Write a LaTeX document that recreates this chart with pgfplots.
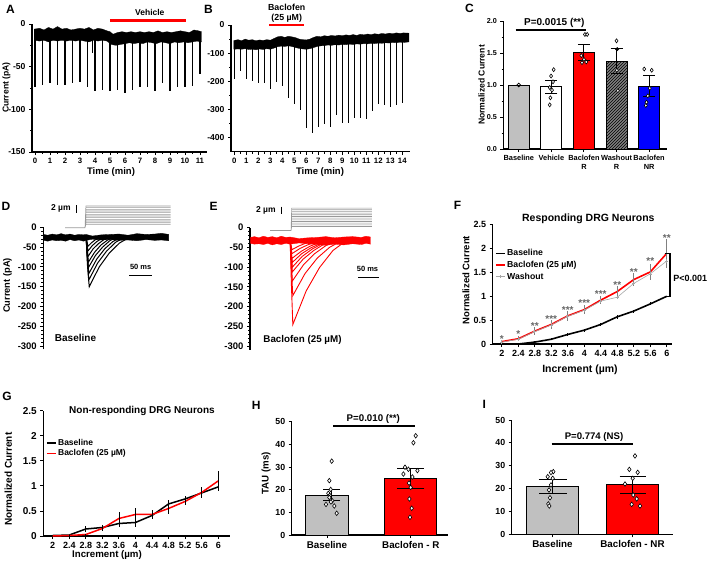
\documentclass[border=0pt]{standalone}
\usepackage{fontspec}
\setmainfont{Liberation Sans}
\usepackage{pgfplots}
\pgfplotsset{compat=1.18}
\usetikzlibrary{patterns}
\newcommand{\F}[1]{\fontsize{#1}{#1}\selectfont\bfseries}
\definecolor{bargray}{RGB}{192,192,192}
\definecolor{myred}{RGB}{255,0,0}
\definecolor{myblue}{RGB}{0,0,255}
\pgfplotsset{
  P/.style={scale only axis, clip=false, anchor=south west,
    axis x line*=bottom, axis y line*=left,
    axis line style={line width=1.2pt, black},
    every tick/.style={black, line width=0.9pt},
    tick align=outside, major tick length=3pt, minor tick length=1.8pt,
    /pgf/number format/assume math mode=true,
    tick label style={font=\F{8.5}}},
  EB/.style={draw=none, mark=none, forget plot, error bars/.cd, y dir=both, y explicit,
    error bar style={draw=black, line width=1pt},
    error mark options={rotate=90, draw=black, line width=1pt, mark size=#1}},
  DIA/.style={only marks, mark=diamond*, mark size=2.3pt, forget plot,
    mark options={fill=white, draw=black, line width=0.6pt}},
  LEG/.style={legend cell align=left,
    legend image code/.code={\draw[mark repeat=2,mark phase=2,##1] plot coordinates {(0pt,0pt) (4.5pt,0pt) (9pt,0pt)};}}
}
\begin{document}
\begin{tikzpicture}
\useasboundingbox (0pt,0pt) rectangle (709pt,-563pt);

% ---------------- A ----------------
\begin{axis}[P, at={(32pt,-152pt)}, width=175pt, height=128pt,
  xmin=-0.2, xmax=11.47, ymin=-150, ymax=0,
  xtick={0,...,11}, minor x tick num=1, ytick={0,-50,-100,-150}, minor y tick num=1,
  xticklabel style={font=\F{7.8}}, yticklabel style={font=\F{8.6}}]
\addplot[fill=black, draw=black, line width=0.3pt] coordinates {
(-0.05,-6)(0.3,-5)(0.6,-7)(0.9,-4)(1.2,-6)(1.5,-3)(1.8,-6)(2.1,-5)(2.4,-7)(2.7,-6)(3.0,-5)(3.3,-6)(3.6,-4)(3.9,-7)(4.2,-5)(4.5,-6)(4.8,-8)(5.0,-9)(5.2,-12)(5.5,-10)(5.8,-9)(6.1,-10)(6.4,-9)(6.7,-10)(7.0,-9)(7.3,-10)(7.6,-9)(7.9,-10)(8.2,-8)(8.5,-10)(8.8,-9)(9.1,-10)(9.4,-9)(9.7,-8)(10.0,-9)(10.3,-10)(10.6,-7)(10.9,-8)(11.1,-9)
(11.1,-21)(10.8,-20)(10.5,-21)(10.2,-22)(9.9,-21)(9.6,-22)(9.3,-21)(9.0,-23)(8.7,-22)(8.4,-21)(8.1,-23)(7.8,-22)(7.5,-21)(7.2,-23)(6.9,-22)(6.6,-23)(6.3,-22)(6.0,-23)(5.7,-24)(5.4,-25)(5.1,-24)(4.8,-20)(4.5,-19)(4.2,-20)(3.9,-19)(3.6,-21)(3.3,-20)(3.0,-19)(2.7,-20)(2.4,-19)(2.1,-20)(1.8,-19)(1.5,-20)(1.2,-19)(0.9,-21)(0.6,-19)(0.3,-20)(-0.05,-19)} -- cycle;
\addplot[draw=none, mark=none, error bars/.cd, y dir=minus, y explicit,
  error bar style={draw=black, line width=1.5pt}, error mark=none] coordinates {
(0,-15) +- (0,59.4) (0.5,-15) +- (0,56.7) (1,-15) +- (0,54.7) (1.5,-15) +- (0,55.9)
(2,-15) +- (0,56.7) (2.5,-15) +- (0,54.3) (3,-15) +- (0,53.2) (3.5,-15) +- (0,59.4)
(3.85,-15) +- (0,19) (4,-15) +- (0,63.3) (4.5,-15) +- (0,62.5) (5,-15) +- (0,64)
(5.5,-15) +- (0,61.8) (6,-15) +- (0,65.3) (6.5,-15) +- (0,61.8) (7,-15) +- (0,58.6)
(7.5,-15) +- (0,58.6) (8,-15) +- (0,63) (8.5,-15) +- (0,54.7) (9,-15) +- (0,64)
(9.5,-15) +- (0,59.4) (10,-15) +- (0,58.6) (10.5,-15) +- (0,57.5) (11,-15) +- (0,43.8)};
\addplot[myred, line width=2.7pt] coordinates {(5,3.9) (10.07,3.9)};
\end{axis}

% ---------------- B ----------------
\begin{axis}[P, at={(231pt,-151.8pt)}, width=179pt, height=126.8pt,
  xmin=-0.28, xmax=14.64, ymin=-450, ymax=0,
  xtick={0,...,14}, minor x tick num=1, ytick={0,-100,-200,-300,-400}, minor y tick num=1,
  xticklabel style={font=\F{7.8}}, yticklabel style={font=\F{8.6}}]
\addplot[fill=black, draw=black, line width=0.3pt] coordinates {
(-0.05,-55)(0.3,-52)(0.6,-56)(0.9,-50)(1.2,-54)(1.5,-52)(1.8,-56)(2.1,-53)(2.4,-55)(2.7,-52)(3.0,-54)(3.3,-48)(3.6,-42)(3.9,-40)(4.2,-44)(4.5,-40)(4.8,-42)(5.1,-45)(5.4,-50)(5.7,-52)(6.0,-53)(6.3,-50)(6.6,-44)(6.9,-40)(7.2,-42)(7.5,-38)(7.8,-40)(8.1,-37)(8.4,-39)(8.7,-36)(9.0,-38)(9.3,-35)(9.6,-37)(9.9,-34)(10.2,-37)(10.5,-33)(10.8,-35)(11.1,-32)(11.4,-34)(11.7,-31)(12.0,-33)(12.3,-30)(12.6,-32)(12.9,-29)(13.2,-31)(13.5,-28)(13.8,-30)(14.1,-28)(14.55,-29)
(14.55,-60)(14.1,-62)(13.8,-61)(13.5,-63)(13.2,-62)(12.9,-64)(12.6,-63)(12.3,-65)(12.0,-64)(11.7,-66)(11.4,-65)(11.1,-67)(10.8,-66)(10.5,-68)(10.2,-67)(9.9,-69)(9.6,-68)(9.3,-70)(9.0,-69)(8.7,-71)(8.4,-70)(8.1,-72)(7.8,-71)(7.5,-73)(7.2,-74)(6.9,-76)(6.6,-80)(6.3,-84)(6.0,-86)(5.7,-85)(5.4,-83)(5.1,-80)(4.8,-76)(4.5,-74)(4.2,-76)(3.9,-75)(3.6,-77)(3.3,-82)(3.0,-86)(2.7,-84)(2.4,-87)(2.1,-85)(1.8,-88)(1.5,-86)(1.2,-87)(0.9,-84)(0.6,-86)(0.3,-85)(-0.05,-86)} -- cycle;
\addplot[draw=none, mark=none, error bars/.cd, y dir=minus, y explicit,
  error bar style={draw=black, line width=1.5pt}, error mark=none] coordinates {
(0,-60) +- (0,132.8) (0.5,-60) +- (0,103) (1,-60) +- (0,132.8) (1.5,-60) +- (0,138.7)
(2,-60) +- (0,144.6) (2.5,-60) +- (0,147) (3,-60) +- (0,168) (3.5,-60) +- (0,143)
(4,-60) +- (0,155) (4.5,-60) +- (0,199) (5,-60) +- (0,221) (5.5,-60) +- (0,241.6)
(6,-60) +- (0,304) (6.5,-60) +- (0,322) (7,-60) +- (0,303) (7.5,-60) +- (0,291)
(8,-60) +- (0,301) (8.5,-60) +- (0,260) (9,-60) +- (0,289) (9.5,-60) +- (0,289)
(10,-60) +- (0,270) (10.5,-60) +- (0,271) (11,-60) +- (0,275) (11.5,-60) +- (0,244)
(12,-60) +- (0,220) (12.5,-60) +- (0,225) (13,-60) +- (0,230) (13.5,-60) +- (0,224) (14,-60) +- (0,218)};
\addplot[myred, line width=2.4pt] coordinates {(2.92,0) (5.81,0)};
\end{axis}

% ---------------- C ----------------
\begin{axis}[P, at={(503.3pt,-149pt)}, width=163.4pt, height=128pt,
  xmin=-0.475, xmax=4.54, ymin=0, ymax=2,
  ytick={0,0.5,1,1.5,2}, minor y tick num=1,
  yticklabel style={font=\F{7.2}, /pgf/number format/.cd, fixed, fixed zerofill, precision=1},
  xtick={0,1,2,3,4}, xticklabels={Baseline, Vehicle, {Baclofen\\R}, {Washout\\R}, {Baclofen\\NR}},
  xticklabel style={font=\fontsize{7.4}{8.8}\selectfont\bfseries, align=center}]
\addplot[ybar, bar width=21pt, bar shift=0pt, fill=bargray, draw=black, line width=0.9pt] coordinates {(0,1)};
\addplot[ybar, bar width=21pt, bar shift=0pt, fill=white, draw=black, line width=0.9pt] coordinates {(1,0.973)};
\addplot[ybar, bar width=21pt, bar shift=0pt, fill=myred, draw=black, line width=0.9pt] coordinates {(2,1.51)};
\addplot[ybar, bar width=21pt, bar shift=0pt, fill=black!50, draw=black, line width=0.9pt,
  postaction={pattern=north east lines, pattern color=black}] coordinates {(3,1.375)};
\addplot[ybar, bar width=21pt, bar shift=0pt, fill=myblue, draw=black, line width=0.9pt] coordinates {(4,0.984)};
\addplot[EB=6pt] coordinates {(1,0.973) +- (0,0.105) (2,1.51) +- (0,0.12) (3,1.375) +- (0,0.19) (4,0.984) +- (0,0.16)};
\addplot[only marks, mark=o, mark size=1.8pt, mark options={fill=white, draw=black, line width=0.7pt}] coordinates {(0,1)};
\addplot[DIA, mark size=2pt] coordinates {(1.07,1.24)(0.99,1.14)(1.05,1.05)(0.95,0.96)(1.02,0.92)(0.97,0.80)(0.95,0.69)
 (2.03,1.79)(2.10,1.79)(1.92,1.46)(2.00,1.40)(1.94,1.35)(2.07,1.36)
 (3.00,1.69)(3.01,1.23)(3.04,0.91)
 (3.85,1.25)(4.08,1.23)(4.02,0.95)(3.96,0.83)(3.92,0.73)(3.90,0.68)};
\addplot[only marks, mark=*, mark size=1.8pt, black] coordinates {(3.02,1.56)};
\addplot[black, line width=1.3pt] coordinates {(-0.1,1.86) (2.05,1.86)};
\end{axis}

% ---------------- D ----------------
\begin{axis}[P, at={(43.3pt,-349.3pt)}, width=130pt, height=122pt,
  xmin=0, xmax=291.5, ymin=-308, ymax=0, axis x line=none,
  ytick={0,-50,-100,-150,-200,-250,-300}, minor y tick num=4, yticklabel style={font=\F{9.5}}]
\addplot[gray!80, line width=0.6pt, unbounded coords=jump] coordinates {
(48.7,-1)(93.5,-1)(95.5,7.6)(285.7,7.6)(nan,nan)(93.5,-1)(95.5,11.8)(285.7,11.8)(nan,nan)
(93.5,-1)(95.5,16)(285.7,16)(nan,nan)(93.5,-1)(95.5,20.2)(285.7,20.2)(nan,nan)
(93.5,-1)(95.5,24.4)(285.7,24.4)(nan,nan)(93.5,-1)(95.5,28.6)(285.7,28.6)(nan,nan)
(93.5,-1)(95.5,32.8)(285.7,32.8)(nan,nan)(93.5,-1)(95.5,37)(285.7,37)(nan,nan)
(93.5,-1)(95.5,41.2)(285.7,41.2)(nan,nan)(93.5,-1)(95.5,45.4)(285.7,45.4)(nan,nan)
(93.5,-1)(95.5,49.6)(285.7,49.6)(nan,nan)(93.5,-1)(95.5,53.8)(285.7,53.8)};
\addplot[fill=black, draw=black, line width=0.3pt] coordinates {
(1,-18)(10,-20)(20,-17)(30,-19)(40,-16)(50,-19)(60,-17)(70,-20)(80,-18)(90,-19)(96,-18)(110,-22)(130,-19)(150,-18)(170,-17)(190,-20)(210,-16)(230,-18)(250,-17)(265,-15)(281,-18)
(281,-34)(265,-32)(250,-33)(230,-31)(210,-34)(190,-32)(170,-33)(150,-31)(130,-32)(110,-30)(96,-33)(90,-35)(80,-32)(70,-34)(60,-31)(50,-35)(40,-33)(30,-34)(20,-32)(10,-35)(1,-33)} -- cycle;
\addplot[black, line width=1pt] coordinates {(96,-25)(99,-95)(103,-150)(125.5,-100)(148,-65)(170.5,-40)(193,-25)};
\addplot[black, line width=1pt] coordinates {(96,-25)(99,-85)(102,-133)(122,-90)(142,-60)(162,-38)(182,-25)};
\addplot[black, line width=1pt] coordinates {(96,-25)(99,-75)(102,-117)(120,-80)(138,-54)(156,-36)(174,-25)};
\addplot[black, line width=1pt] coordinates {(96,-25)(98.5,-65)(101,-102)(117,-71)(133,-50)(149,-34)(165,-25)};
\addplot[black, line width=1pt] coordinates {(96,-25)(98.5,-55)(101,-88)(115,-63)(129,-45)(143,-33)(157,-25)};
\addplot[black, line width=1pt] coordinates {(96,-25)(100,-74)(112,-54)(124,-41)(136,-31)(148,-25)};
\addplot[black, line width=1pt] coordinates {(96,-25)(100,-60)(110,-46)(120,-36)(130,-29)(140,-25)};
\addplot[black, line width=1pt] coordinates {(96,-25)(100,-48)(108,-39)(116,-32)(124,-28)(132,-25)};
\addplot[black, line width=0.8pt] coordinates {(73.3,56)(73.3,37)};
\addplot[black, line width=1pt] coordinates {(192.8,-122.2)(243,-122.2)};
\end{axis}

% ---------------- E ----------------
\begin{axis}[P, at={(250pt,-349.5pt)}, width=130pt, height=122pt,
  xmin=0, xmax=291.5, ymin=-308, ymax=0, axis x line=none,
  ytick={0,-50,-100,-150,-200,-250,-300}, minor y tick num=4, yticklabel style={font=\F{9.5}}]
\addplot[gray!80, line width=0.6pt, unbounded coords=jump] coordinates {
(45,-7.6)(92,-7.6)(93.5,2.5)(273,2.5)(nan,nan)(92,-7.6)(93.5,6.7)(273,6.7)(nan,nan)
(92,-7.6)(93.5,11)(273,11)(nan,nan)(92,-7.6)(93.5,15.2)(273,15.2)(nan,nan)
(92,-7.6)(93.5,19.4)(273,19.4)(nan,nan)(92,-7.6)(93.5,23.7)(273,23.7)(nan,nan)
(92,-7.6)(93.5,27.9)(273,27.9)(nan,nan)(92,-7.6)(93.5,32.1)(273,32.1)(nan,nan)
(92,-7.6)(93.5,36.3)(273,36.3)(nan,nan)(92,-7.6)(93.5,40.6)(273,40.6)(nan,nan)
(92,-7.6)(93.5,44.8)(273,44.8)(nan,nan)(92,-7.6)(93.5,49)(273,49)};
\addplot[fill=myred, draw=myred, line width=0.3pt] coordinates {
(1,-25)(10,-23)(20,-26)(30,-22)(40,-25)(50,-23)(60,-26)(70,-22)(80,-25)(90,-24)(110,-28)(130,-26)(150,-25)(170,-23)(190,-26)(210,-24)(230,-23)(250,-25)(260,-22)(270,-24)
(270,-42)(260,-40)(250,-43)(230,-41)(210,-44)(190,-42)(170,-45)(150,-43)(130,-41)(110,-39)(90,-42)(80,-40)(70,-43)(60,-41)(50,-44)(40,-40)(30,-43)(20,-41)(10,-42)(1,-40)} -- cycle;
\addplot[myred, line width=0.9pt] coordinates {(90,-33)(93,-150)(96,-245)(126,-160)(156,-101)(186,-58)(216,-33)};
\addplot[myred, line width=0.9pt] coordinates {(90,-33)(93,-110)(96,-172)(123.5,-116)(151,-77)(178.5,-50)(206,-33)};
\addplot[myred, line width=0.9pt] coordinates {(90,-33)(95,-135)(120,-94)(145,-66)(171,-45)(196,-33)};
\addplot[myred, line width=0.9pt] coordinates {(90,-33)(95,-112)(119,-80)(143,-58)(166,-42)(190,-33)};
\addplot[myred, line width=0.9pt] coordinates {(90,-33)(95,-100)(117,-73)(140,-54)(162,-41)(185,-33)};
\addplot[myred, line width=0.9pt] coordinates {(90,-33)(95,-88)(116,-66)(137,-51)(159,-40)(180,-33)};
\addplot[myred, line width=0.9pt] coordinates {(90,-33)(94,-78)(115,-60)(135,-47)(155,-38)(175,-33)};
\addplot[myred, line width=0.9pt] coordinates {(90,-33)(94,-66)(112,-53)(129,-44)(147,-37)(165,-33)};
\addplot[myred, line width=0.9pt] coordinates {(90,-33)(94,-56)(109,-47)(124,-40)(139,-36)(155,-33)};
\addplot[black, line width=0.8pt] coordinates {(70.4,53)(70.4,34.6)};
\addplot[black, line width=1pt] coordinates {(242.8,-125.3)(289.2,-125.3)};
\end{axis}

% ---------------- F ----------------
\begin{axis}[P, LEG, at={(492.7pt,-344pt)}, width=179pt, height=119.3pt,
  xmin=1.78, xmax=6.12, ymin=0, ymax=2.5,
  xtick={2,2.4,2.8,3.2,3.6,4,4.4,4.8,5.2,5.6,6}, ytick={0,0.5,1,1.5,2,2.5},
  tick label style={font=\F{9}},
  legend style={draw=none, fill=none, at={(0.012,0.80)}, anchor=north west, font=\F{8.7},
    inner sep=0pt, row sep=2.2pt, column sep=0.7pt, nodes={inner sep=0.8pt}}]
\addplot[black, line width=1.6pt, mark=none, error bars/.cd, y dir=both, y explicit,
  error bar style={line width=0.8pt}, error mark=none] coordinates {
(2,0) +- (0,0.01) (2.4,0.0) +- (0,0.01) (2.8,0.04) +- (0,0.02) (3.2,0.1) +- (0,0.02)
(3.6,0.2) +- (0,0.03) (4,0.29) +- (0,0.03) (4.4,0.41) +- (0,0.03) (4.8,0.57) +- (0,0.04)
(5.2,0.69) +- (0,0.03) (5.6,0.84) +- (0,0.03) (6,1.0) +- (0,0.01)};
\addplot[myred, line width=1.6pt, mark=none, error bars/.cd, y dir=both, y explicit,
  error bar style={draw=gray, line width=1pt}, error mark=none] coordinates {
(2,0.05) +- (0,0.03) (2.4,0.11) +- (0,0.05) (2.8,0.27) +- (0,0.08) (3.2,0.41) +- (0,0.1)
(3.6,0.59) +- (0,0.1) (4,0.72) +- (0,0.1) (4.4,0.92) +- (0,0.08) (4.8,1.1) +- (0,0.12)
(5.2,1.35) +- (0,0.14) (5.6,1.51) +- (0,0.17) (6,1.9) +- (0,0.3)};
\addplot[gray!70, line width=0.6pt, mark=+, mark size=1.6pt] coordinates {
(2,0.04)(2.4,0.1)(2.8,0.26)(3.2,0.4)(3.6,0.58)(4,0.71)(4.4,0.9)(4.8,0.98)(5.2,1.27)(5.6,1.47)(6,1.74)};
\legend{Baseline, Baclofen (25 µM), Washout}
\addplot[draw=none, mark=none, forget plot, nodes near coords, point meta=explicit symbolic,
  every node near coord/.append style={font=\F{10}, text=black!60, inner sep=0pt}] table[meta=s] {
x y s
2 0.03 *
2.4 0.14 *
2.8 0.30 **
3.2 0.45 ***
3.6 0.63 ***
4 0.78 ***
4.4 0.98 ***
4.8 1.16 **
5.2 1.44 **
5.6 1.66 **
6 2.15 **
};
\addplot[black, line width=1.5pt, forget plot] coordinates {(5.95,1.9)(6.08,1.9)(6.08,1.0)(5.95,1.0)};
\end{axis}

% ---------------- G ----------------
\begin{axis}[P, LEG, at={(43.3pt,-536pt)}, width=186.7pt, height=125.3pt,
  xmin=1.773, xmax=6.283, ymin=0, ymax=2.5,
  xtick={2,2.4,2.8,3.2,3.6,4,4.4,4.8,5.2,5.6,6}, ytick={0,0.5,1,1.5,2,2.5},
  xticklabel style={font=\F{9}}, yticklabel style={font=\F{10}},
  legend style={draw=none, fill=none, at={(0.014,0.779)}, anchor=north west, font=\F{8.5},
    inner sep=0pt, row sep=0.9pt, column sep=0.7pt, nodes={inner sep=0.8pt}}]
\addplot[black, line width=1.5pt, mark=none, error bars/.cd, y dir=both, y explicit,
  error bar style={line width=0.8pt}, error mark=none] coordinates {
(2,0.01) +- (0,0.01) (2.4,0.02) +- (0,0.02) (2.8,0.14) +- (0,0.06) (3.2,0.17) +- (0,0.05)
(3.6,0.25) +- (0,0.08) (4,0.27) +- (0,0.1) (4.4,0.41) +- (0,0.07) (4.8,0.64) +- (0,0.08)
(5.2,0.74) +- (0,0.05) (5.6,0.86) +- (0,0.1) (6,0.98) +- (0,0.06)};
\addplot[myred, line width=1.5pt, mark=none, error bars/.cd, y dir=both, y explicit,
  error bar style={draw=black, line width=0.8pt}, error mark=none] coordinates {
(2,0.0) +- (0,0.0) (2.4,0.01) +- (0,0.01) (2.8,0.03) +- (0,0.02) (3.2,0.15) +- (0,0.05)
(3.6,0.35) +- (0,0.12) (4,0.43) +- (0,0.12) (4.4,0.43) +- (0,0.08) (4.8,0.55) +- (0,0.12)
(5.2,0.69) +- (0,0.07) (5.6,0.87) +- (0,0.1) (6,1.10) +- (0,0.2)};
\legend{Baseline, Baclofen (25 µM)}
\end{axis}

% ---------------- H ----------------
\begin{axis}[P, at={(291.7pt,-535pt)}, width=156.6pt, height=113.3pt,
  xmin=0, xmax=156.6, ymin=0, ymax=50, ytick={0,10,20,30,40,50},
  xtick={35.3,119.1}, xticklabels={Baseline, Baclofen - R},
  xticklabel style={font=\F{9.8}}, yticklabel style={font=\F{8.8}}]
\addplot[ybar, bar width=42.7pt, bar shift=0pt, fill=bargray, draw=black, line width=1pt] coordinates {(35.3,17.6)};
\addplot[ybar, bar width=51.7pt, bar shift=0pt, fill=myred, draw=black, line width=1pt] coordinates {(119.1,25.0)};
\addplot[EB=8.5pt] coordinates {(40,17.6) +- (0,2.5)};
\addplot[EB=13.5pt] coordinates {(119.1,25.0) +- (0,4.3)};
\addplot[DIA] coordinates {(40,32.6)(37.6,24)(39,20.1)(36.6,18.4)(38,17.5)(37.6,16.6)(40.6,15.1)(39.2,14.6)(34.3,13.5)(42.6,12.8)(45,9.6)
(124,43.8)(121.7,40.7)(113.3,29.9)(116.7,29.0)(125.7,28.4)(111.7,26.9)(120.7,25.6)(117.3,22.9)(119,21.0)(117.7,15.9)(120,11.8)(118.3,7.8)};
\addplot[black, line width=1.8pt] coordinates {(41.6,48.1)(123.3,48.1)};
\end{axis}

% ---------------- I ----------------
\begin{axis}[P, at={(511.7pt,-534.3pt)}, width=161.6pt, height=114.3pt,
  xmin=0, xmax=161.6, ymin=0, ymax=50, ytick={0,10,20,30,40,50},
  xtick={40.8,120.8}, xticklabels={Baseline, Baclofen - NR},
  xticklabel style={font=\F{9.8}}, yticklabel style={font=\F{8.8}}]
\addplot[ybar, bar width=51.7pt, bar shift=0pt, fill=bargray, draw=black, line width=1pt] coordinates {(40.8,20.8)};
\addplot[ybar, bar width=51.7pt, bar shift=0pt, fill=myred, draw=black, line width=1pt] coordinates {(120.8,21.6)};
\addplot[EB=14pt] coordinates {(40.8,20.8) +- (0,3.0)};
\addplot[EB=13pt] coordinates {(120.8,21.6) +- (0,3.8)};
\addplot[DIA] coordinates {(41.6,27.4)(39.3,27.0)(36,25.2)(41,24.5)(39.3,21.6)(37.3,19.4)(38.3,16.0)(36.6,13.3)(37.6,12.4)
(123.3,34.3)(117.6,28.4)(126,27.1)(121,24.5)(113.3,22)(121.6,17.2)(125,15.5)(120,13.1)(128.3,12.4)};
\addplot[black, line width=1.8pt] coordinates {(40,39.4)(121.6,39.4)};
\end{axis}

% ---------------- text annotations ----------------
\node[font=\F{12}] at (10.5pt,-9pt) {A};
\node[font=\F{12}] at (208.5pt,-9pt) {B};
\node[font=\F{12}] at (469.5pt,-8.5pt) {C};
\node[font=\F{12}] at (6pt,-206pt) {D};
\node[font=\F{12}] at (213.5pt,-206pt) {E};
\node[font=\F{12}] at (457.5pt,-205.5pt) {F};
\node[font=\F{12}] at (7pt,-396.7pt) {G};
\node[font=\F{12}] at (256.3pt,-405pt) {H};
\node[font=\F{12}] at (484.3pt,-404.5pt) {I};

\node[font=\F{8.6}, rotate=90] at (6.5pt,-87.5pt) {Current (pA)};
\node[font=\F{9.5}] at (111pt,-172pt) {Time (min)};
\node[font=\F{8.5}] at (149.8pt,-12.7pt) {Vehicle};
\node[font=\F{9.5}] at (320pt,-172pt) {Time (min)};
\node[font=\F{8.8}] at (286.7pt,-7.3pt) {Baclofen};
\node[font=\F{8.8}] at (286.7pt,-18.3pt) {(25 µM)};

\node[font=\F{8.6}, rotate=90] at (481.5pt,-85pt) {Normalized Current};
\node[font=\F{10}] at (554.3pt,-23.3pt) {P=0.0015 (**)};

\node[font=\F{9.3}, rotate=90] at (7.5pt,-285.5pt) {Current (pA)};
\node[font=\F{8.5}] at (60.8pt,-208.3pt) {2 µm};
\node[font=\F{7.5}] at (140.7pt,-267.3pt) {50 ms};
\node[font=\F{10}] at (75.5pt,-337.7pt) {Baseline};
\node[font=\F{8.5}] at (265.8pt,-210.7pt) {2 µm};
\node[font=\F{7.5}] at (367.5pt,-269.3pt) {50 ms};
\node[font=\F{9.8}] at (302.5pt,-340pt) {Baclofen (25 µM)};

\node[font=\F{9.5}, rotate=90] at (466pt,-280pt) {Normalized Current};
\node[font=\F{10.5}] at (588.3pt,-219.3pt) {Responding DRG Neurons};
\node[font=\F{10.5}] at (580pt,-370pt) {Increment (µm)};
\node[font=\F{9}] at (690.3pt,-278.3pt) {P<0.001};

\node[font=\F{10}] at (142pt,-410.7pt) {Non-responding DRG Neurons};
\node[font=\F{9.7}] at (107pt,-555pt) {Increment (µm)};
\node[font=\F{10}, rotate=90] at (8.3pt,-479pt) {Normalized Current};

\node[font=\F{9.7}, rotate=90] at (266pt,-473.3pt) {TAU (ms)};
\node[font=\F{9.7}] at (373.3pt,-419.3pt) {P=0.010 (**)};
\node[font=\F{9.6}] at (594pt,-436.7pt) {P=0.774 (NS)};
\end{tikzpicture}
\end{document}
